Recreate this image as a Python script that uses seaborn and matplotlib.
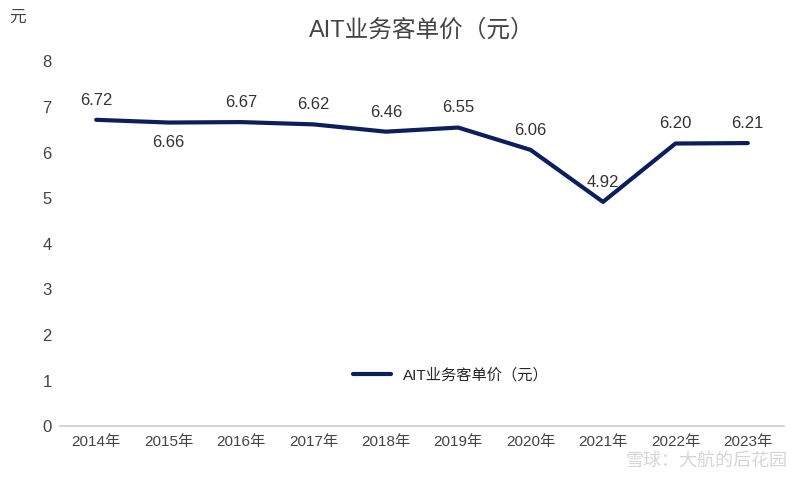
import matplotlib
matplotlib.use("Agg")
import matplotlib.pyplot as plt
import seaborn as sns
import pandas as pd

years = ["2014年","2015年","2016年","2017年","2018年","2019年","2020年","2021年","2022年","2023年"]
values = [6.72,6.66,6.67,6.62,6.46,6.55,6.06,4.92,6.20,6.21]
label_offsets = [1,-1,1,1,1,1,1,1,1,1]

sns.set_theme(style="white")
plt.rcParams['font.family'] = ['Liberation Sans', 'Noto Sans CJK SC', 'DejaVu Sans']

fig = plt.figure(figsize=(8,4.8), dpi=100)
ax = fig.add_axes([0.075, 0.112, 0.905, 0.76])
x = list(range(len(years)))
sns.lineplot(x=x, y=values, ax=ax, color="#0c1f5c", linewidth=3, label="AIT业务客单价（元）")
for i, v in enumerate(values):
    ax.text(i, v + 0.43*label_offsets[i], f"{v:.2f}",
            ha="center", va="center", fontsize=12, color="#333333")
ax.set_xlim(-0.5, len(years)-0.5)
ax.set_ylim(0, 8)
ax.set_xticks(x)
ax.set_xticklabels(years, fontsize=11, color="#444444")
ax.set_yticks(range(0, 9))
ax.set_yticklabels([str(i) for i in range(9)], fontsize=12, color="#444444")
ax.tick_params(axis="both", length=0, pad=6)
for s in ["top", "right", "left"]:
    ax.spines[s].set_visible(False)
ax.spines["bottom"].set_color("#d0d0d0")
ax.set_title("AIT业务客单价（元）", fontsize=17, color="#444444", pad=18)
fig.text(0.012, 0.955, "元", fontsize=12, color="#444444")
ax.legend(loc="center", bbox_to_anchor=(0.54, 0.14), frameon=False, fontsize=11, handlelength=2.5)
fig.text(0.985, 0.03, "雪球：大航的后花园", ha="right", fontsize=13, color="#cccccc", alpha=0.8)
fig.savefig("out.png", dpi=100)
